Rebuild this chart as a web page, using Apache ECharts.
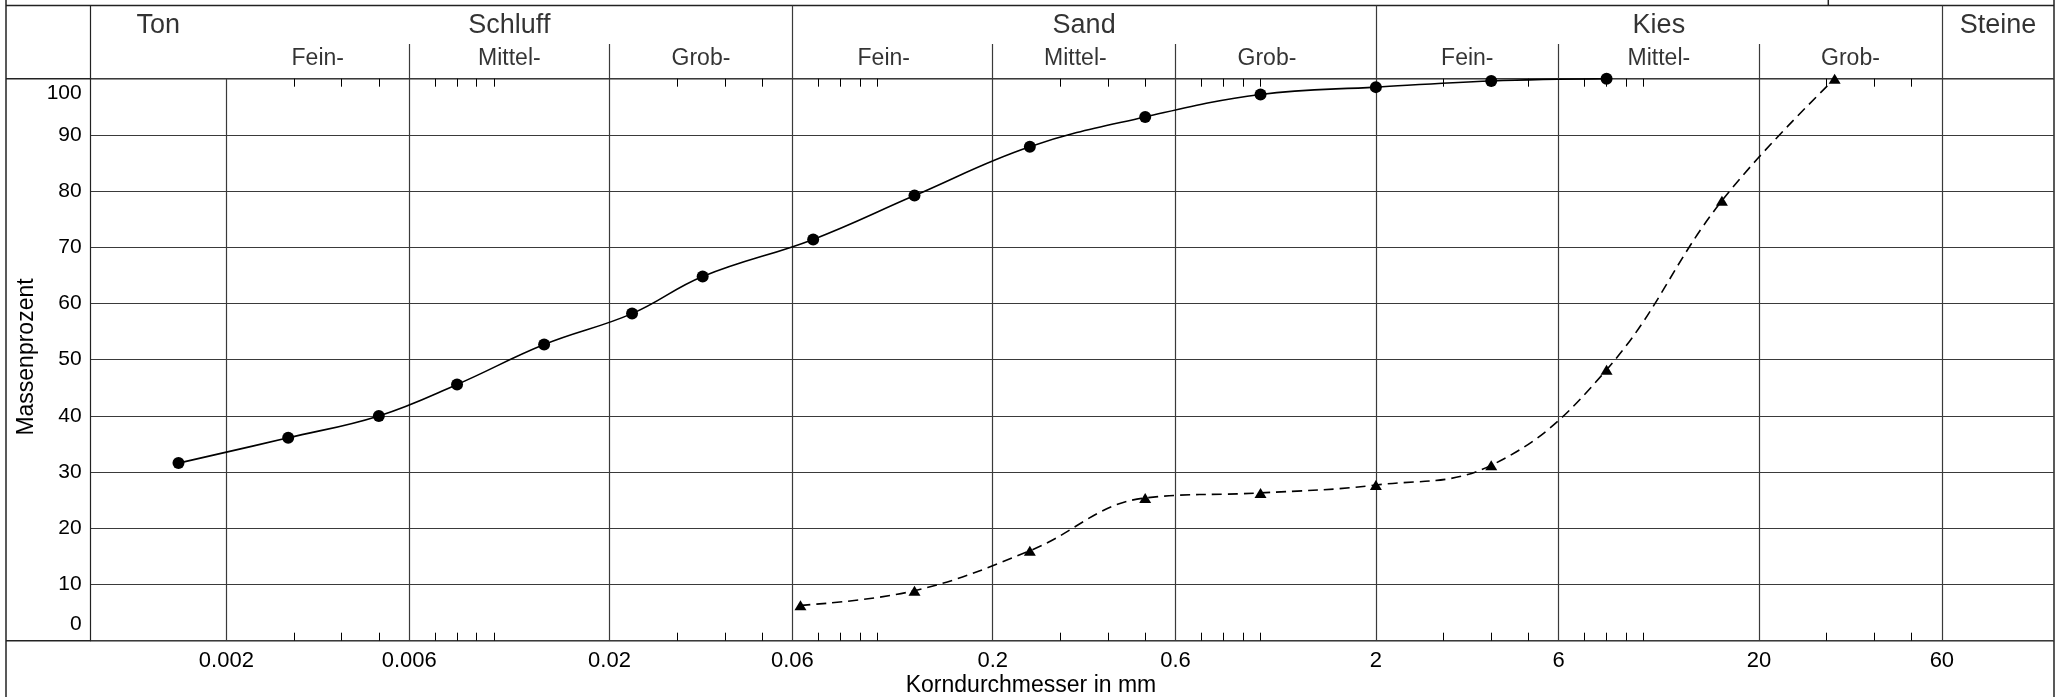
<!DOCTYPE html>
<html>
<head>
<meta charset="utf-8">
<script src="https://cdn.jsdelivr.net/npm/echarts@6.0.0/dist/echarts.min.js"></script>
<style>
  html, body { margin: 0; padding: 0; background: #fff; }
  #chart { width: 2056px; height: 697px; }
</style>
</head>
<body>
<div id="chart"></div>
<script>
// Körnungslinie: sample A (solid, circles), sample B (dashed, triangles)
const sizeA = [0.0015, 0.0029, 0.0050, 0.0080, 0.0135, 0.0229, 0.0350, 0.068, 0.125, 0.25, 0.5, 1, 2, 4, 8];
const passA = [31.6, 36.1, 40.0, 45.6, 52.7, 58.2, 64.8, 71.4, 79.2, 87.9, 93.2, 97.2, 98.5, 99.6, 100];
const sizeB = [0.063, 0.125, 0.25, 0.5, 1, 2, 4, 8, 16, 31.5];
const passB = [6.3, 8.9, 16.0, 25.4, 26.3, 27.7, 31.2, 48.2, 78.3, 100];

const xMin = 0.000883;
const xMax = 117.7;
const xLabels = [0.002, 0.006, 0.02, 0.06, 0.2, 0.6, 2, 6, 20, 60];
const minorTicks = [0.003, 0.004, 0.005, 0.007, 0.008, 0.009, 0.01,
  0.03, 0.04, 0.05, 0.07, 0.08, 0.09, 0.1,
  0.3, 0.4, 0.5, 0.7, 0.8, 0.9, 1,
  3, 4, 5, 7, 8, 9, 10,
  30, 40, 50];

const zoneNames = ["Ton", "Schluff", "Sand", "Kies", "Steine"];
const zoneBounds = [0.002, 0.06, 2, 60];
const subNames = ["Fein-", "Mittel-", "Grob-"];
const subBounds = [0.006, 0.02, 0.2, 0.6, 6, 20];

// layout (px)
const L = 90.3, R = 2054, HT = 5.5, PT = 78.7, PB = 640.7;
const lineCol = "#222";
const gridCol = "#3a3a3a";
const font = "Liberation Sans, Arial, sans-serif";

const chart = echarts.init(document.getElementById("chart"));

// header label positions: geometric middle of each zone
const edges = [xMin].concat(zoneBounds, [xMax]);
const mainLabels = zoneNames.map((n, i) => ({ name: n, value: [Math.sqrt(edges[i] * edges[i + 1]), 72] }));
const subLabels = [];
[0.002, 0.06, 2].forEach((a) => {
  const b = [a, a * 3, a * 10, a * 30];
  subNames.forEach((n, j) => {
    subLabels.push({ name: n, value: [Math.sqrt(b[j] * b[j + 1]), 28] });
  });
});

const fmtNum = (v) => String(+(+v).toPrecision(6));

const tickAxis = (pos) => ({
  type: "log", gridIndex: 0, position: pos, min: xMin, max: xMax,
  axisLine: { show: false },
  axisTick: { show: true, inside: true, length: 8, customValues: minorTicks, lineStyle: { color: "#000", width: 1 } },
  axisLabel: { show: false },
  splitLine: { show: false },
});

var option = {
  animation: false,
  textStyle: { fontFamily: font, color: "#000" },
  grid: [
    { left: L, top: PT, width: R - L, height: PB - PT, outerBoundsMode: "none" },
    { left: L, top: HT, width: R - L, height: PT - HT, outerBoundsMode: "none" },
  ],
  xAxis: [
    {
      type: "log", gridIndex: 0, position: "bottom", min: xMin, max: xMax,
      axisLine: { show: false },
      axisTick: { show: false, customValues: xLabels },
      axisLabel: { customValues: xLabels, fontSize: 22, color: "#000", margin: 9, formatter: fmtNum },
      splitLine: { show: true, lineStyle: { color: gridCol, width: 1.2 } },
    },
    tickAxis("bottom"),
    tickAxis("top"),
    { type: "log", gridIndex: 1, min: xMin, max: xMax, show: false },
  ],
  yAxis: [
    {
      type: "value", gridIndex: 0, min: 0, max: 100, interval: 10,
      axisLine: { show: true, lineStyle: { color: lineCol, width: 1.2 } },
      axisTick: { show: false },
      axisLabel: {
        fontSize: 21, color: "#000", margin: 8.6, showMinLabel: true, showMaxLabel: true,
        formatter: (v) => (v === 100 ? "{t|100}" : v === 0 ? "{b|0}" : String(v)),
        rich: {
          t: { fontSize: 21, color: "#000", padding: [29, 0, 0, 0] },
          b: { fontSize: 21, color: "#000", padding: [0, 0, 33, 0] },
        },
      },
      splitLine: { show: true, lineStyle: { color: gridCol, width: 1.2 } },
    },
    {
      type: "value", gridIndex: 1, min: 0, max: 100,
      axisLine: { show: true, lineStyle: { color: lineCol, width: 1.2 } },
      axisTick: { show: false }, axisLabel: { show: false }, splitLine: { show: false },
    },
  ],
  series: [
    {
      name: "A", type: "line", xAxisIndex: 0, yAxisIndex: 0,
      data: sizeA.map((d, i) => [d, passA[i]]),
      smooth: 0.4, symbol: "circle", symbolSize: 12,
      itemStyle: { color: "#000" },
      lineStyle: { color: "#000", width: 1.6 },
    },
    {
      name: "B", type: "line", xAxisIndex: 0, yAxisIndex: 0,
      data: sizeB.map((d, i) => [d, passB[i]]),
      smooth: 0.4, symbol: "triangle", symbolSize: [12, 10],
      itemStyle: { color: "#000" },
      lineStyle: { color: "#000", width: 1.6, type: [10, 6] },
    },
    {
      name: "zones", type: "scatter", xAxisIndex: 3, yAxisIndex: 1, silent: true,
      symbolSize: 0, data: mainLabels,
      label: { show: true, position: "inside", formatter: (p) => p.name, fontSize: 27, color: "#000" },
      markLine: {
        silent: true, symbol: "none", label: { show: false },
        lineStyle: { color: gridCol, width: 1.2, type: "solid" },
        data: zoneBounds.map((b) => ({ xAxis: b })),
      },
    },
    {
      name: "subzones", type: "scatter", xAxisIndex: 3, yAxisIndex: 1, silent: true,
      symbolSize: 0, data: subLabels,
      label: { show: true, position: "inside", formatter: (p) => p.name, fontSize: 23, color: "#000" },
      markLine: {
        silent: true, symbol: "none", label: { show: false },
        lineStyle: { color: gridCol, width: 1.2, type: "solid" },
        data: subBounds.map((b) => [{ coord: [b, 0] }, { coord: [b, 47.4] }]),
      },
    },
  ],
  graphic: [
    { type: "line", shape: { x1: 6, y1: 0, x2: 6, y2: 697 }, style: { stroke: lineCol, lineWidth: 1.5 } },
    { type: "line", shape: { x1: R, y1: 0, x2: R, y2: 697 }, style: { stroke: lineCol, lineWidth: 1.5 } },
    { type: "line", shape: { x1: 6, y1: HT, x2: R, y2: HT }, style: { stroke: lineCol, lineWidth: 1.5 } },
    { type: "line", shape: { x1: 6, y1: PT, x2: R, y2: PT }, style: { stroke: lineCol, lineWidth: 1.5 } },
    { type: "line", shape: { x1: 6, y1: PB, x2: R, y2: PB }, style: { stroke: lineCol, lineWidth: 1.5 } },
    { type: "line", shape: { x1: 1828.3, y1: 0, x2: 1828.3, y2: HT }, style: { stroke: lineCol, lineWidth: 1.5 } },
    {
      type: "text", x: 26.5, y: 357, rotation: Math.PI / 2,
      style: { text: "Massenprozent", font: "23px " + font, fill: "#000", align: "center", verticalAlign: "middle" },
    },
    {
      type: "text", x: 1031, y: 686,
      style: { text: "Korndurchmesser in mm", font: "23px " + font, fill: "#000", align: "center", verticalAlign: "middle" },
    },
  ],
};

chart.setOption(option);
</script>
</body>
</html>
